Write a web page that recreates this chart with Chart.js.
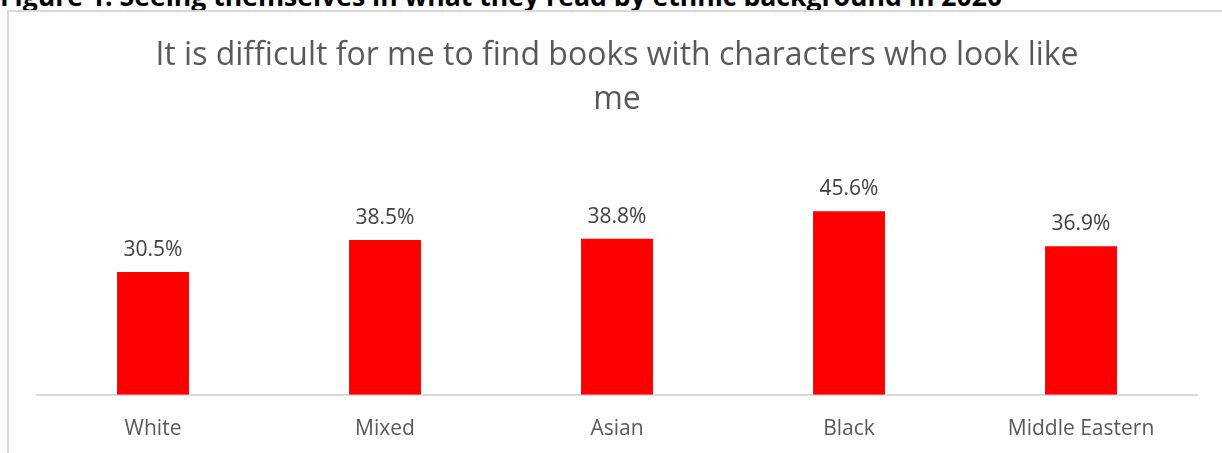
<!DOCTYPE html>
<html>
<head>
<meta charset="utf-8">
<script src="https://cdn.jsdelivr.net/npm/chart.js@4.4.1/dist/chart.umd.min.js"></script>
<style>
  body { margin: 0; background: #fff; overflow: hidden; }
  .caption {
    position: absolute; left: 0; top: -17px; white-space: nowrap;
    font: bold 26.6px/26px "Open Sans", sans-serif; color: #000;
  }
  .frame {
    position: absolute; left: 7px; top: 10px; width: 1215px; height: 443px; overflow: hidden;
    border-left: 2px solid #d9d9d9; border-top: 2px solid #d9d9d9; box-sizing: border-box;
  }
  canvas { display: block; }
</style>
</head>
<body>
<div class="caption">Figure 1: Seeing themselves in what they read by ethnic background in 2020</div>
<div class="frame"><canvas id="chart" width="1213" height="464"></canvas></div>
<script>
const categories = ['White', 'Mixed', 'Asian', 'Black', 'Middle Eastern'];
const values = [30.5, 38.5, 38.8, 45.6, 36.9];
const titleLines = ['It is difficult for me to find books with characters who look like', 'me'];

// value labels above each bar
const barLabels = {
  id: 'barLabels',
  afterDatasetsDraw(chart) {
    const { ctx } = chart;
    const meta = chart.getDatasetMeta(0);
    ctx.save();
    ctx.font = '21px "Open Sans", sans-serif';
    ctx.fillStyle = '#404040';
    ctx.textAlign = 'center';
    ctx.textBaseline = 'alphabetic';
    meta.data.forEach((bar, i) => {
      ctx.fillText(values[i].toFixed(1) + '%', bar.x, bar.y - 16);
    });
    ctx.restore();
  },
};

const chart = new Chart(document.getElementById('chart'), {
  type: 'bar',
  data: {
    labels: categories,
    datasets: [{
      data: values,
      backgroundColor: '#ff0000',
      categoryPercentage: 1,
      barPercentage: 0.31,
    }],
  },
  options: {
    responsive: false,
    animation: false,
    layout: { padding: { left: 28, right: 25, top: 0, bottom: 12 } },
    scales: {
      x: {
        grid: { display: false, drawTicks: false },
        border: { display: true, color: '#d9d9d9', width: 2 },
        ticks: { color: '#595959', font: { family: '"Open Sans", sans-serif', size: 21 }, padding: 22 },
      },
      y: { display: false, min: 0, max: 50 },
    },
    plugins: {
      legend: { display: false },
      tooltip: { enabled: false },
      title: {
        display: true,
        text: titleLines,
        color: '#595959',
        font: { family: '"Open Sans", sans-serif', size: 32, weight: 'normal', lineHeight: 1.4 },
        padding: { top: 21, bottom: 71 },
      },
    },
  },
  plugins: [barLabels],
});
</script>
</body>
</html>
